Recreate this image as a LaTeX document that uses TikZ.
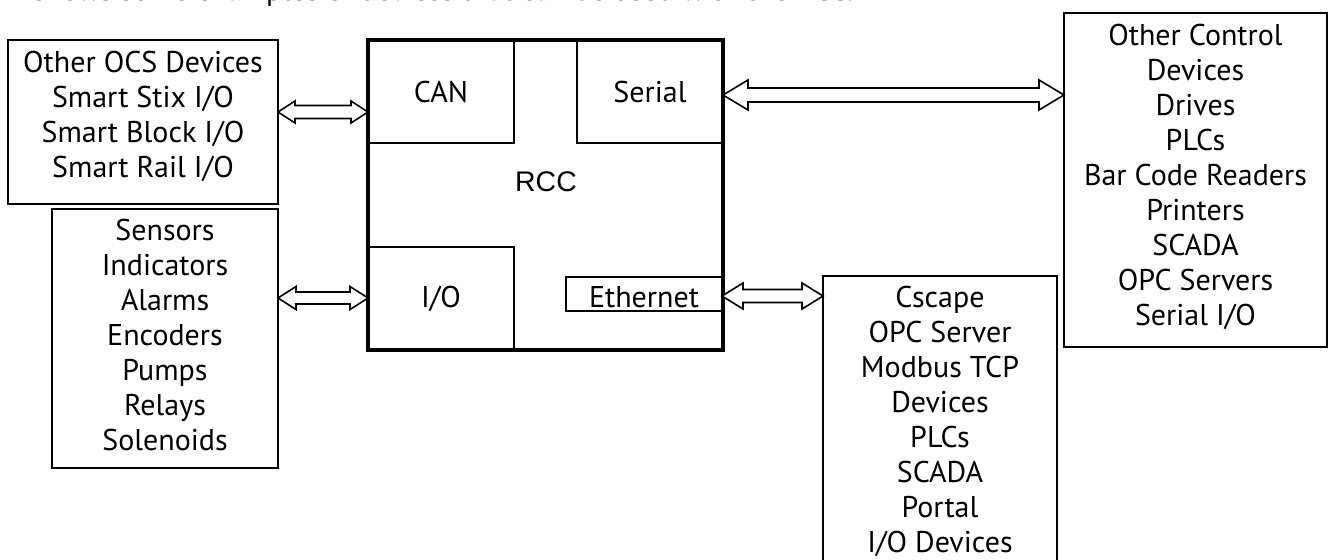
\documentclass[tikz,border=0pt]{standalone}
\usepackage{fontspec}
\setmainfont{PT Sans}
\newfontfamily\rccfont{Liberation Sans}
\usetikzlibrary{positioning, calc}

% hollow two-headed arrow: from, to, head length, half head, half shaft
\newcommand{\fatarrow}[5]{%
  \draw[fatline] (#1) -- ++(#3,-#4) -- ++(0,#4-#5) -- ($(#2)+(-#3,-#5)$)
    -- ++(0,#5-#4) -- (#2) -- ++(-#3,#4) -- ++(0,#5-#4)
    -- ($(#1)+(#3,#5)$) -- ++(0,#4-#5) -- cycle;}

\begin{document}
\begin{tikzpicture}[
  x=0.5pt, y=-0.5pt,
  every node/.style={inner sep=0pt, outer sep=0pt},
  devbox/.style={draw, line width=0.8pt},
  devtext/.style={font=\fontsize{15}{17.5}\selectfont, align=center, anchor=north},
  portbox/.style={draw, line width=0.6pt, minimum width=73pt, minimum height=51.5pt,
                  font=\fontsize{15}{17.5}\selectfont},
  rccbox/.style={draw, line width=1.6pt},
  fatline/.style={draw, fill=white, line width=0.8pt, line join=miter}
]
\useasboundingbox (0,0) rectangle (1329,559);

\node[font=\fontsize{15}{17.5}\selectfont, anchor=base west] (intro) at (33,0)
  {shows some examples of devices that can be used with the RCC.};

% device boxes
\node[devbox, minimum width=135pt, minimum height=82pt] (ocs) at (143,122) {};
\node[devtext] (ocstxt) at ([yshift=-5.7pt]ocs.north)
  {Other OCS Devices\\Smart Stix I/O\\Smart Block I/O\\Smart Rail I/O};
\node[devbox, minimum width=113pt, minimum height=129.5pt] (sens) at (165,338.5) {};
\node[devtext] (senstxt) at ([yshift=-5.2pt]sens.north)
  {Sensors\\Indicators\\Alarms\\Encoders\\Pumps\\Relays\\Solenoids};
\node[devbox, minimum width=131.5pt, minimum height=167pt] (ctrl) at (1195.5,180) {};
\node[devtext] (ctrltxt) at ([yshift=-5.7pt]ctrl.north)
  {Other Control\\Devices\\Drives\\PLCs\\Bar Code Readers\\Printers\\SCADA\\OPC Servers\\Serial I/O};
\node[devbox, minimum width=117pt, minimum height=162pt] (cscape) at (940,438) {};
\node[devtext] (cscapetxt) at ([yshift=-5.2pt]cscape.north)
  {Cscape\\OPC Server\\Modbus TCP\\Devices\\PLCs\\SCADA\\Portal\\I/O Devices};

% RCC and its ports
\node[portbox] (can) at (441,91.5) {CAN};
\node[portbox] (serial) at (650,91.5) {Serial};
\node[portbox] (io) at (441,298.5) {I/O};
\node[devbox, line width=0.9pt, minimum width=78pt, minimum height=17pt] (eth) at (644,294) {};
\node[font=\fontsize{15}{17.5}\selectfont] (ethtxt) at ([yshift=-1.5pt]eth) {Ethernet};
\node[rccbox, minimum width=177.5pt, minimum height=155pt] (rcc) at (545.5,195) {};
\node[font=\rccfont\fontsize{14.2}{17.5}\selectfont] (rcctxt) at (546,182) {RCC};

% links
\fatarrow{ocs.east |- 0,112}{can.west |- 0,112}{17}{11}{6.5}
\fatarrow{sens.east |- 0,298}{io.west |- 0,298}{18}{11.5}{6}
\fatarrow{serial.east |- 0,95}{ctrl.west |- 0,95}{25}{15}{7}
\fatarrow{eth.east |- 0,296}{cscape.west |- 0,296}{21}{13}{6.5}
\end{tikzpicture}
\end{document}
